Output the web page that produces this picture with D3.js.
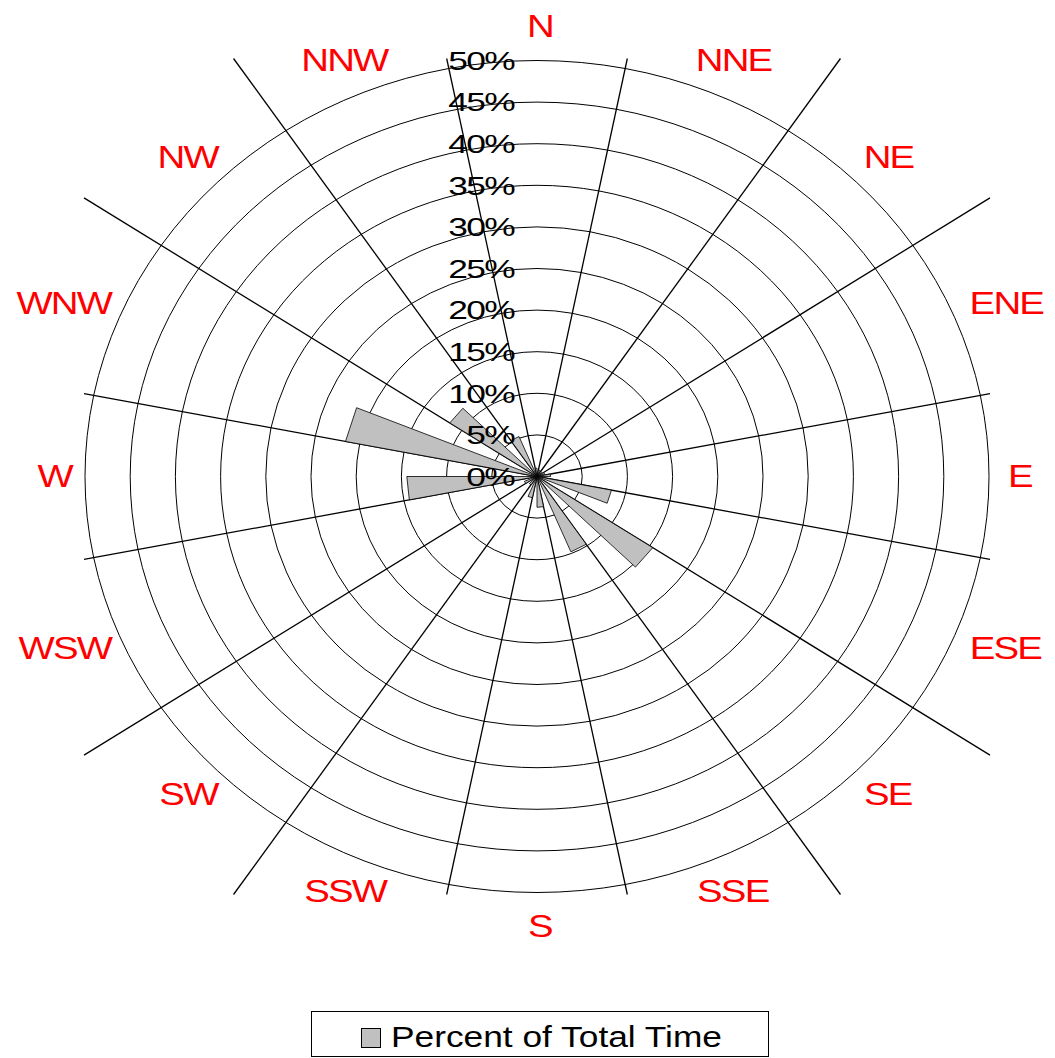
<!DOCTYPE html>
<html>
<head>
    <script src="https://d3js.org/d3.v7.min.js"></script>
    <style>
        body { margin: 0; background: #fff; }
        text { font-family: "Liberation Sans", Arial, sans-serif; }
    </style>
</head>
<body>
    <div id="chart"></div>
    <script>
        // wind directions, clockwise from north
        const directions = ["N", "NNE", "NE", "ENE", "E", "ESE", "SE", "SSE",
            "S", "SSW", "SW", "WSW", "W", "WNW", "NW", "NNW"];
        // percent of total time for each direction
        const percents = [1.0, 0.8, 0.7, 0.9, 1.5, 8.4, 15.4, 9.8,
            3.7, 2.6, 1.2, 1.5, 14.4, 21.6, 11.6, 5.2];
        // ring ticks
        const ringTicks = [0, 5, 10, 15, 20, 25, 30, 35, 40, 45, 50];
        const seriesName = "Percent of Total Time";

        const width = 1055, height = 1058;
        const cx = 537, cy = 476.5;   // centre of the rose
        const rx = 452, ry = 416;     // outer ring (50%) is an ellipse

        const svg = d3.select("#chart").append("svg")
            .attr("width", width)
            .attr("height", height);

        // radial scales, one per screen axis
        const rX = d3.scaleLinear().domain([0, 50]).range([0, rx]);
        const rY = d3.scaleLinear().domain([0, 50]).range([0, ry]);
        // compass angle (degrees) of each direction
        const angle = d3.scaleLinear().domain([0, directions.length]).range([0, 360]);
        const step = 360 / directions.length;

        function pt(deg, v) {
            const a = deg * Math.PI / 180;
            return [cx + rX(v) * Math.sin(a), cy - rY(v) * Math.cos(a)];
        }

        // rings
        svg.append("g").selectAll("ellipse")
            .data(ringTicks.filter(d => d > 0))
            .join("ellipse")
            .attr("cx", cx).attr("cy", cy)
            .attr("rx", d => rX(d)).attr("ry", d => rY(d))
            .attr("fill", "none")
            .attr("stroke", "#000")
            .attr("stroke-width", 1);

        // spokes sit on the sector boundaries and run out to the box round the outer ring
        const maxV = d3.max(ringTicks);
        svg.append("g").selectAll("line")
            .data(directions)
            .join("line")
            .each(function (d, i) {
                const deg = angle(i) - step / 2;
                const [ex, ey] = pt(deg, maxV);
                const dx = ex - cx, dy = ey - cy;
                const t = Math.min((rx + 1) / Math.max(Math.abs(dx), 1e-6), (ry + 2) / Math.max(Math.abs(dy), 1e-6));
                d3.select(this)
                    .attr("x1", cx).attr("y1", cy)
                    .attr("x2", cx + dx * t).attr("y2", cy + dy * t);
            })
            .attr("stroke", "#000")
            .attr("stroke-width", 1.3);

        // bars: wedge from the previous boundary up to the direction itself
        svg.append("g").selectAll("path")
            .data(percents)
            .join("path")
            .attr("d", (v, i) => {
                const p1 = pt(angle(i) - step / 2, v);
                const p2 = pt(angle(i), v);
                return "M" + cx + "," + cy + "L" + p1 + "L" + p2 + "Z";
            })
            .attr("fill", "#c0c0c0")
            .attr("stroke", "#000")
            .attr("stroke-width", 0.8);

        // ring labels, stretched like the original
        svg.append("g").selectAll("text")
            .data(ringTicks)
            .join("text")
            .attr("transform", d => "translate(" + (cx - 23) + "," + (cy - rY(d)) + ") scale(1.36,1)")
            .attr("text-anchor", "end")
            .attr("dy", "0.36em")
            .style("font-size", "26px")
            .style("letter-spacing", "-1.2px")
            .attr("fill", "#000")
            .text(d => d + "%");

        // direction labels: pushed out from an anchor ellipse by half their own size
        const lcx = 540, lcy = 475, lrx = 468, lry = 432, lh = 36, sx = 1.2;
        svg.append("g").selectAll("text")
            .data(directions)
            .join("text")
            .attr("text-anchor", "middle")
            .attr("dy", "0.36em")
            .style("font-size", "32px")
            .style("letter-spacing", "-1.5px")
            .attr("fill", "#ff0000")
            .text(d => d)
            .attr("transform", function (d, i) {
                const a = angle(i) * Math.PI / 180;
                const w = this.getComputedTextLength() * sx;
                const x = lcx + (lrx + w / 2) * Math.sin(a);
                const y = lcy - (lry + lh / 2) * Math.cos(a);
                return "translate(" + x + "," + y + ") scale(" + sx + ",1)";
            });

        // legend
        const legend = svg.append("g");
        legend.append("rect")
            .attr("x", 311.5).attr("y", 1011.5)
            .attr("width", 457).attr("height", 45)
            .attr("fill", "#fff")
            .attr("stroke", "#000")
            .attr("stroke-width", 1);
        legend.append("rect")
            .attr("x", 361.5).attr("y", 1028.5)
            .attr("width", 19).attr("height", 19)
            .attr("fill", "#c0c0c0")
            .attr("stroke", "#000")
            .attr("stroke-width", 1);
        legend.append("text")
            .attr("x", 391).attr("y", 1047)
            .attr("textLength", 331)
            .attr("lengthAdjust", "spacingAndGlyphs")
            .style("font-size", "30px")
            .attr("fill", "#000")
            .text(seriesName);
    </script>
</body>
</html>
